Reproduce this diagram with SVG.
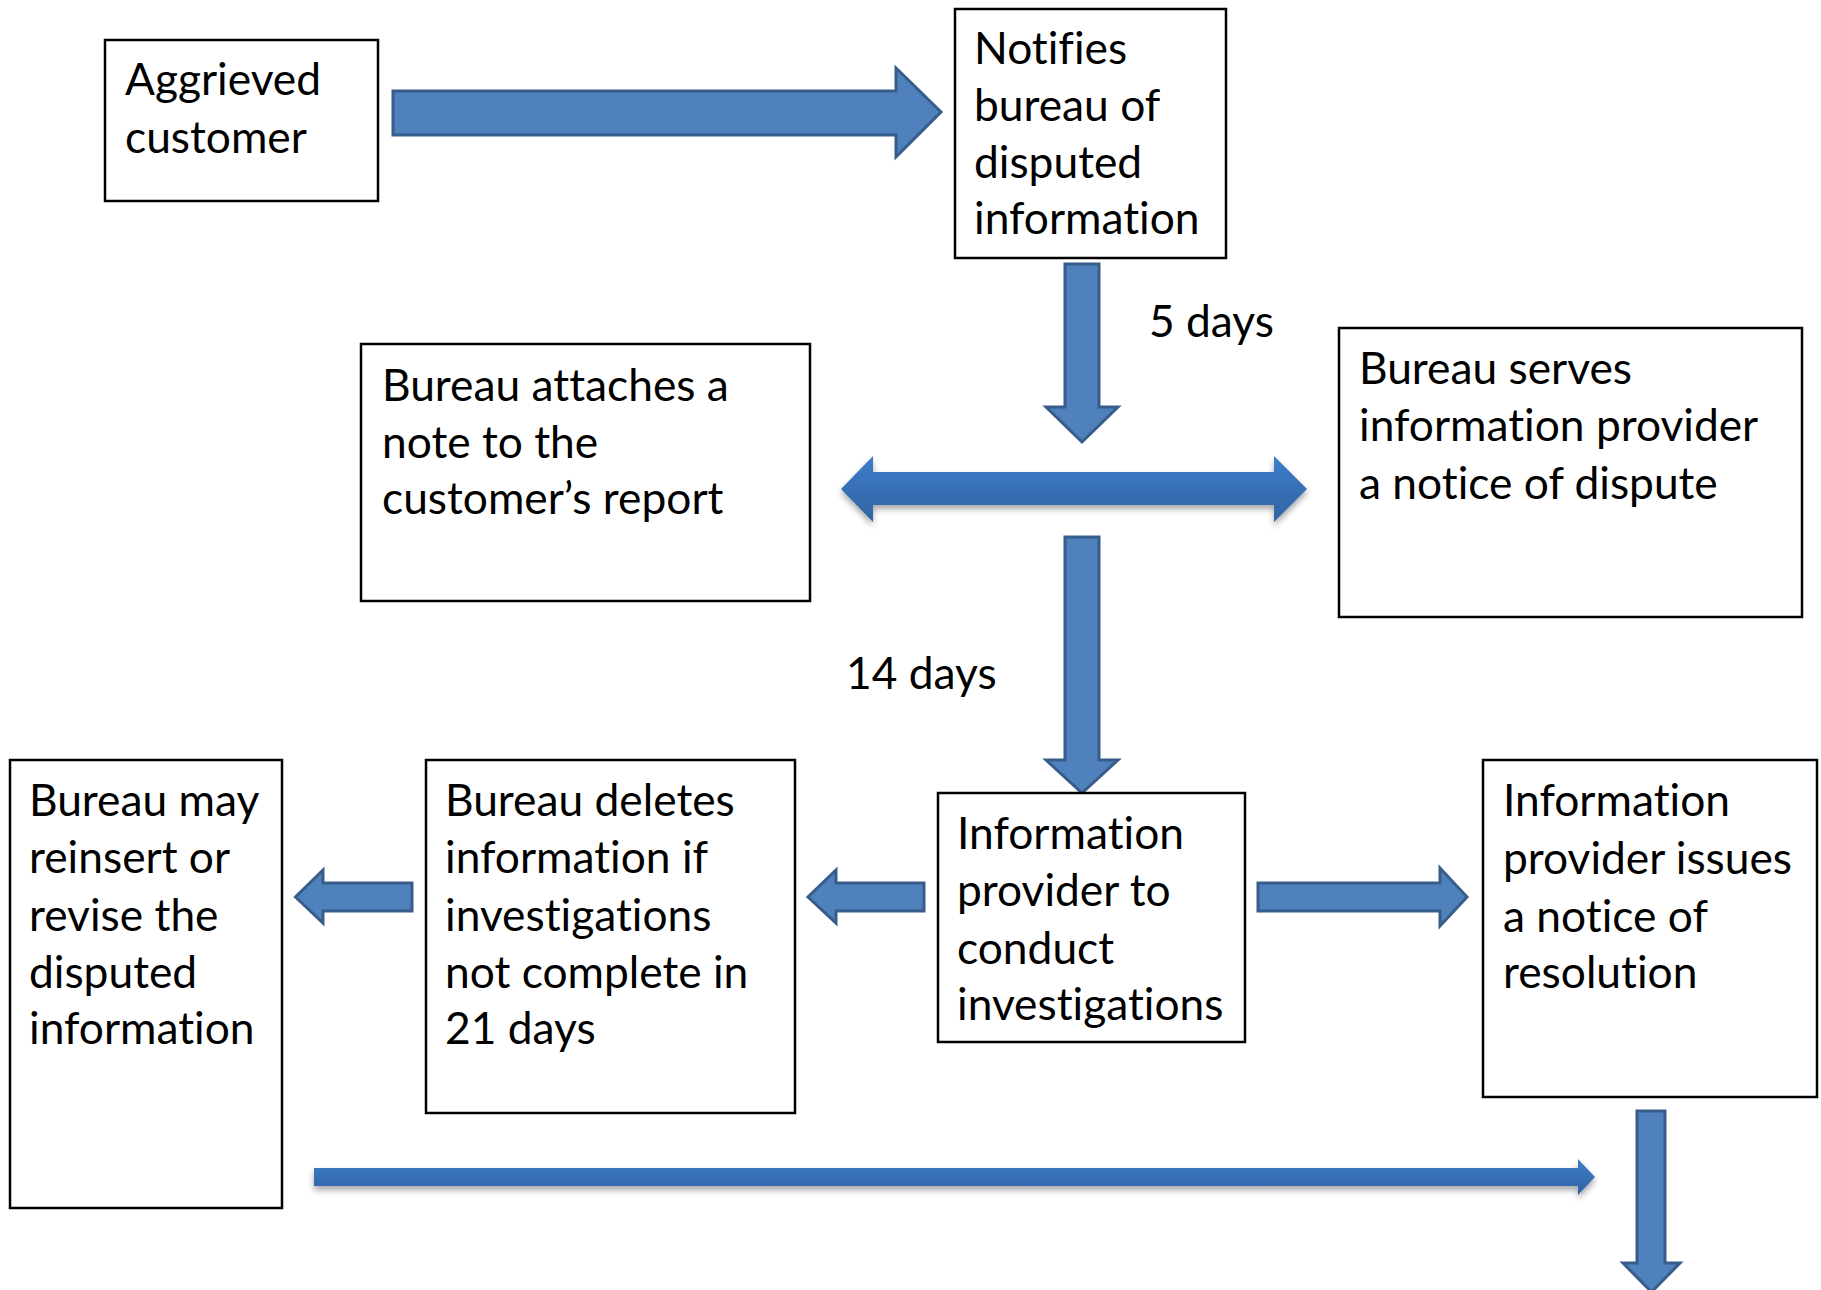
<svg xmlns="http://www.w3.org/2000/svg" width="1821" height="1290" viewBox="0 0 1821 1290">
<style>
.box{fill:#fff;stroke:#000;stroke-width:2.5}
.t{font-family:Lato,"Liberation Sans",sans-serif;font-size:44.3px;fill:#000;font-variant-ligatures:none;font-feature-settings:"liga" 0,"dlig" 0}
.arr{fill:#4f81bd;stroke:#385d8a;stroke-width:3;stroke-linejoin:miter}
.garr{fill:url(#g);filter:url(#sh)}
</style>
<defs>
<linearGradient id="g" x1="0" y1="0" x2="0" y2="1">
<stop offset="0" stop-color="#3c7dca"/>
<stop offset="1" stop-color="#3263a3"/>
</linearGradient>
<filter id="sh" x="-10%" y="-50%" width="120%" height="200%">
<feDropShadow dx="0" dy="4" stdDeviation="3" flood-color="#000" flood-opacity="0.35"/>
</filter>
</defs>
<rect width="1821" height="1290" fill="#fff"/>
<g id="connectors">
<polygon class="arr" points="393,91 896,91 896,68 941,112 896,157 896,135 393,135"/>
<polygon class="arr" points="1065,264 1099,264 1099,407 1118,407 1082,442 1046,407 1065,407"/>
<polygon class="garr" points="841,489 873,456 873,472 1274,472 1274,456 1307,489 1274,522 1274,505 873,505 873,522"/>
<polygon class="arr" points="1065,537 1099,537 1099,760 1118,760 1082,793 1046,760 1065,760"/>
<polygon class="arr" points="1258,883 1440,883 1440,868 1467,897 1440,926 1440,911 1258,911"/>
<polygon class="arr" points="924,883 836,883 836,870 808,897 836,923 836,911 924,911"/>
<polygon class="arr" points="412,883 323,883 323,870 295.5,897 323,923 323,911 412,911"/>
<polygon class="arr" points="1637,1111 1665,1111 1665,1263 1680,1263 1651.5,1292 1623,1263 1637,1263"/>
<polygon class="garr" points="314,1168 1578,1168 1578,1159 1595,1177 1578,1195 1578,1186 314,1186"/>
</g>
<g id="aggrieved">
<rect class="box" x="105" y="40" width="273" height="161"/>
<text class="t" x="125" y="95">Aggrieved</text>
<text class="t" x="125" y="153">customer</text>
</g>
<g id="notifies">
<rect class="box" x="955" y="9" width="271" height="249"/>
<text class="t" x="974" y="64">Notifies</text>
<text class="t" x="974" y="121">bureau of</text>
<text class="t" x="974" y="178">disputed</text>
<text class="t" x="974" y="234">information</text>
</g>
<g id="attaches">
<rect class="box" x="361" y="344" width="449" height="257"/>
<text class="t" x="382" y="401">Bureau attaches a</text>
<text class="t" x="382" y="458">note to the</text>
<text class="t" x="382" y="514">customer’s report</text>
</g>
<g id="serves">
<rect class="box" x="1339" y="328" width="463" height="289"/>
<text class="t" x="1359" y="384">Bureau serves</text>
<text class="t" x="1359" y="441">information provider</text>
<text class="t" x="1359" y="499">a notice of dispute</text>
</g>
<g id="label-5days"><text class="t" x="1149" y="337">5 days</text></g>
<g id="label-14days"><text class="t" x="846" y="689">14 days</text></g>
<g id="reinsert">
<rect class="box" x="10" y="760" width="272" height="448"/>
<text class="t" x="29" y="816">Bureau may</text>
<text class="t" x="29" y="873">reinsert or</text>
<text class="t" x="29" y="931">revise the</text>
<text class="t" x="29" y="988">disputed</text>
<text class="t" x="29" y="1044">information</text>
</g>
<g id="deletes">
<rect class="box" x="426" y="760" width="369" height="353"/>
<text class="t" x="445" y="816">Bureau deletes</text>
<text class="t" x="445" y="873">information if</text>
<text class="t" x="445" y="931">investigations</text>
<text class="t" x="445" y="988">not complete in</text>
<text class="t" x="445" y="1044">21 days</text>
</g>
<g id="conduct">
<rect class="box" x="938" y="793" width="307" height="249"/>
<text class="t" x="957" y="849">Information</text>
<text class="t" x="957" y="906">provider to</text>
<text class="t" x="957" y="964">conduct</text>
<text class="t" x="957" y="1020">investigations</text>
</g>
<g id="resolution">
<rect class="box" x="1483" y="760" width="334" height="337"/>
<text class="t" x="1503" y="816">Information</text>
<text class="t" x="1503" y="874">provider issues</text>
<text class="t" x="1503" y="932">a notice of</text>
<text class="t" x="1503" y="988">resolution</text>
</g>
</svg>
